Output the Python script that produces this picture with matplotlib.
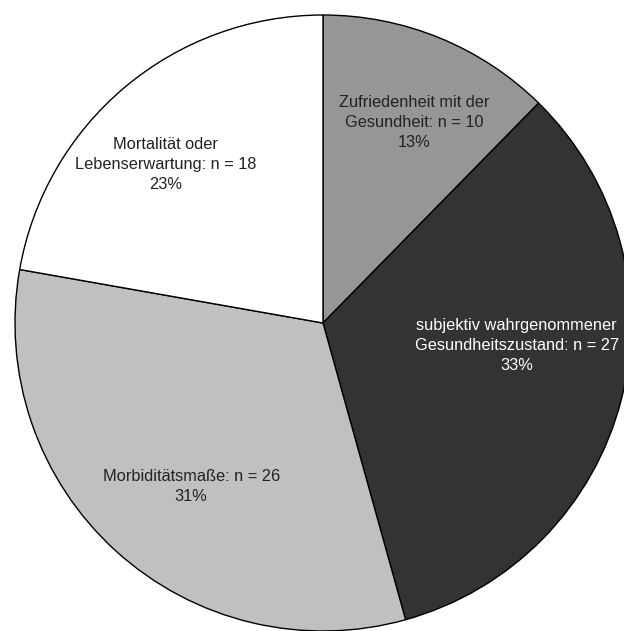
import numpy as np
import matplotlib
matplotlib.use("Agg")
import matplotlib.pyplot as plt

# slice data (clockwise from 12 o'clock)
categories = ["Zufriedenheit mit der\nGesundheit: n = 10",
              "subjektiv wahrgenommener\nGesundheitszustand: n = 27",
              "Morbiditätsmaße: n = 26",
              "Mortalität oder\nLebenserwartung: n = 18"]
counts = [10, 27, 26, 18]
pct_labels = ["13%", "33%", "31%", "23%"]
colors = ["#969696", "#333333", "#c0c0c0", "#ffffff"]
text_colors = ["#222222", "#ffffff", "#222222", "#222222"]

# label placement: angle clockwise from top (deg), radius as fraction
lab_ang = [24.4, 96.5, 218.8, 315.2]
lab_rad = [0.716, 0.633, 0.683, 0.724]

W, H = 624, 631
fig = plt.figure(figsize=(W/100, H/100), dpi=100)
ax = fig.add_axes([0, 0, 1, 1])

cx, cy, R = 323, H - 323, 308
wedges, _ = ax.pie(counts, colors=colors, startangle=90, counterclock=False,
                   center=(cx, cy), radius=R,
                   wedgeprops=dict(edgecolor="black", linewidth=1.0))
ax.set_xlim(0, W)
ax.set_ylim(0, H)
ax.set_aspect("auto")
ax.axis("off")

for i in range(len(counts)):
    t = np.deg2rad(90 - lab_ang[i])
    x = cx + lab_rad[i] * R * np.cos(t)
    y = cy + lab_rad[i] * R * np.sin(t)
    ax.text(x, y, categories[i] + "\n" + pct_labels[i], ha="center", va="center",
            fontsize=11.8, family="Liberation Sans", color=text_colors[i],
            linespacing=1.42)

fig.savefig("out.png", dpi=100)
